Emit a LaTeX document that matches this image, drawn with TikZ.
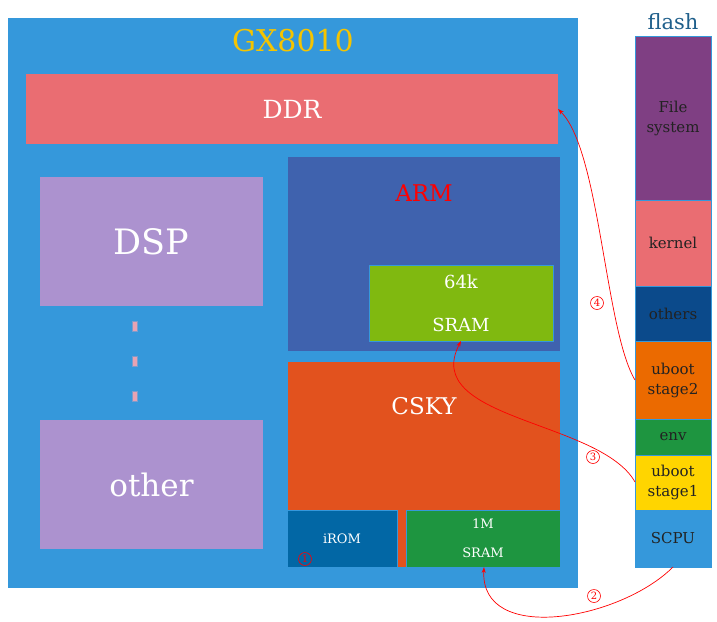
\documentclass[tikz,border=0pt]{standalone}
\usepackage{fontspec}
\setmainfont{DejaVu Serif}
\usetikzlibrary{arrows.meta}
\definecolor{mainblue}{RGB}{53,152,219}
\definecolor{ddrc}{RGB}{234,109,114}
\definecolor{dspc}{RGB}{172,146,207}
\definecolor{armc}{RGB}{63,98,174}
\definecolor{greenk}{RGB}{128,185,16}
\definecolor{cskyc}{RGB}{226,82,30}
\definecolor{iromc}{RGB}{2,103,165}
\definecolor{sramc}{RGB}{30,149,64}
\definecolor{fsc}{RGB}{127,63,131}
\definecolor{othc}{RGB}{11,74,139}
\definecolor{ubtwo}{RGB}{235,106,0}
\definecolor{ubone}{RGB}{255,213,0}
\definecolor{goldc}{RGB}{245,196,0}
\definecolor{flashc}{RGB}{31,95,139}
\definecolor{dotc}{RGB}{232,163,179}
\definecolor{darkt}{RGB}{34,34,34}
\tikzset{
  blk/.style={rectangle, inner sep=0pt, outer sep=0pt, anchor=north west},
  wtext/.style={text=white, align=center},
  fblk/.style={blk, fill=#1, draw=mainblue, line width=0.8pt, minimum width=76pt, text=darkt, align=center, font=\fontsize{15}{20}\selectfont},
  arr/.style={red, line width=0.7pt, -{Stealth[length=6pt,width=4pt]}},
  num/.style={circle, draw=red, line width=0.6pt, text=red, font=\fontsize{10}{10}\selectfont, inner sep=0pt, minimum size=13pt},
  dotbox/.style={blk, fill=dotc, draw=mainblue!60!dotc, line width=0.5pt, minimum width=5pt, minimum height=10pt}
}
\begin{document}
\begin{tikzpicture}[x=1pt,y=-1pt]
\useasboundingbox (0,0) rectangle (717,621);
% chip
\node[blk, fill=mainblue, minimum width=570pt, minimum height=570pt] (chip) at (8,18) {};
\node[text=goldc, font=\fontsize{30}{30}\selectfont] (chiplbl) at (293,41) {GX8010};
\node[blk, fill=ddrc, minimum width=532pt, minimum height=70pt, wtext, font=\fontsize{25}{25}\selectfont] (ddr) at (26,74) {DDR};
\node[blk, fill=dspc, minimum width=223pt, minimum height=129pt, wtext, font=\fontsize{35}{35}\selectfont] (dsp) at (40,177) {DSP};
\node[blk, fill=dspc, minimum width=223pt, minimum height=129pt, wtext, font=\fontsize{31}{31}\selectfont] (other) at (40,420) {other};
\node[dotbox] (d1) at (132,321) {};
\node[dotbox] (d2) at (132,356) {};
\node[dotbox] (d3) at (132,391) {};
% ARM
\node[blk, fill=armc, minimum width=272pt, minimum height=194pt] (arm) at (288,157) {};
\node[text=red, font=\fontsize{23}{23}\selectfont] (armlbl) at (424,193) {ARM};
\node[blk, fill=greenk, draw=mainblue, line width=0.8pt, minimum width=184pt, minimum height=76pt, wtext, font=\fontsize{18}{43}\selectfont] (sramk) at (369,265) {64k\\SRAM};
% CSKY
\node[blk, fill=cskyc, minimum width=272pt, minimum height=205pt] (csky) at (288,362) {};
\node[text=white, font=\fontsize{23}{23}\selectfont] (cskylbl) at (424,406) {CSKY};
\node[blk, fill=iromc, draw=mainblue, line width=0.8pt, minimum width=110pt, minimum height=57pt, wtext, font=\fontsize{13}{13}\selectfont] (irom) at (287,510) {iROM};
\node[blk, fill=sramc, draw=mainblue, line width=0.8pt, minimum width=154pt, minimum height=57pt, wtext, font=\fontsize{13}{29}\selectfont] (sramm) at (406,510) {1M\\SRAM};
\node[num] (n1) at (305,559) {1};
% flash
\node[text=flashc, font=\fontsize{21}{21}\selectfont] (flashlbl) at (673,22) {flash};
\node[fblk=fsc, minimum height=164pt] (fs) at (635,36) {File\\system};
\node[fblk=ddrc, minimum height=86pt] (kern) at (635,200) {kernel};
\node[fblk=othc, minimum height=55pt] (oth) at (635,286) {others};
\node[fblk=ubtwo, minimum height=78pt] (ub2) at (635,341) {uboot\\stage2};
\node[fblk=sramc, minimum height=36pt] (env) at (635,419) {env};
\node[fblk=ubone, minimum height=55pt] (ub1) at (635,455) {uboot\\stage1};
\node[fblk=mainblue, minimum height=57pt] (scpu) at (635,510) {SCPU};
% arrows
\draw[arr] (ub2.west) .. controls (605,330) and (600,150) .. (ddr.east);
\node[num] (n4) at (597,303) {4};
\coordinate (s3) at (635,482);
\draw[arr] (s3) .. controls (600,420) and (420,420) .. (sramk.south);
\node[num] (n3) at (593,457) {3};
\draw[arr] (scpu.south) .. controls (620,620) and (480,645) .. (484,567);
\node[num] (n2) at (594,596) {2};
\end{tikzpicture}
\end{document}
